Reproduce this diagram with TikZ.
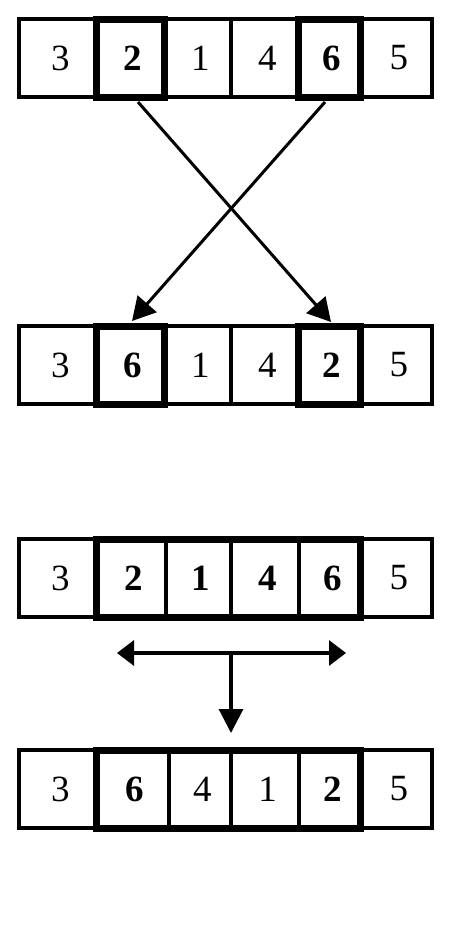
\documentclass[tikz,border=0pt]{standalone}
\usepackage{fontspec}
\setmainfont{Liberation Serif}
\usetikzlibrary{arrows.meta}
\begin{document}
\begin{tikzpicture}[x=0.5pt,y=-0.5pt,
  numfont/.style={font=\fontsize{18.5}{20}\selectfont},
  cell/.style={draw, line width=2pt, inner sep=0pt, outer sep=0pt, minimum height=39pt, numfont, execute at begin node={\hspace{2.5pt}}},
  bd/.style={cell, font=\fontsize{18.5}{20}\selectfont\bfseries},
  hl/.style={bd, line width=3.5pt},
  grp/.style={draw, line width=3.5pt},
  arr/.style={line width=1.5pt, -{Triangle[length=11.5pt,width=12.5pt]}},
  harr/.style={line width=1.6pt, {Triangle[length=8.5pt,width=12.5pt]}-{Triangle[length=8.5pt,width=12.5pt]}},
  varr/.style={line width=1.6pt, -{Triangle[length=12pt,width=12pt]}}]
\useasboundingbox (0,0) rectangle (450,937);
\fill[white] (0,0) rectangle (450,937);
% row 1
\node[cell, minimum width=38.75pt] (a1) at (57.75,58) {3};
\node[cell, minimum width=33.25pt] (a3) at (197.75,58) {1};
\node[cell, minimum width=33.75pt] (a4) at (264.75,58) {4};
\node[cell, minimum width=35.75pt] (a6) at (396.25,58) {5};
\node[hl, minimum width=34pt] (a2) at (130.5,58) {2};
\node[hl, minimum width=31pt] (a5) at (329.5,58) {6};
% row 2
\node[cell, minimum width=38.75pt] (b1) at (57.75,365) {3};
\node[cell, minimum width=33.25pt] (b3) at (197.75,365) {1};
\node[cell, minimum width=33.75pt] (b4) at (264.75,365) {4};
\node[cell, minimum width=35.75pt] (b6) at (396.25,365) {5};
\node[hl, minimum width=34pt] (b2) at (130.5,365) {6};
\node[hl, minimum width=31pt] (b5) at (329.5,365) {2};
% row 3
\node[cell, minimum width=38.75pt] (c1) at (57.75,578) {3};
\node[bd, minimum width=34.5pt] (c2) at (131,578) {2};
\node[bd, minimum width=32.75pt] (c3) at (198.25,578) {1};
\node[bd, minimum width=34pt] (c4) at (265,578) {4};
\node[bd, minimum width=30.75pt] (c5) at (329.75,578) {6};
\node[cell, minimum width=35.75pt] (c6) at (396.25,578) {5};
\draw[grp] (c2.north west) rectangle (c5.south east);
% row 4
\node[cell, minimum width=38.75pt] (d1) at (57.75,789) {3};
\node[bd, minimum width=36pt] (d2) at (132.5,789) {6};
\node[cell, minimum width=31.25pt] (d3) at (199.75,789) {4};
\node[cell, minimum width=34pt] (d4) at (265,789) {1};
\node[bd, minimum width=30.75pt] (d5) at (329.75,789) {2};
\node[cell, minimum width=35.75pt] (d6) at (396.25,789) {5};
\draw[grp] (d2.north west) rectangle (d5.south east);
% cross arrows
\coordinate (s1) at (138,102);
\coordinate (e1) at (331,322);
\coordinate (s2) at (325,102);
\coordinate (e2) at (132,321);
\draw[arr] (s1) -- (e1);
\draw[arr] (s2) -- (e2);
% reverse arrows
\coordinate (hL) at (117,653);
\coordinate (hR) at (346,653);
\coordinate (hM) at (231,653);
\coordinate (vE) at (231,733);
\draw[harr] (hL) -- (hR);
\draw[varr] (hM) -- (vE);
\end{tikzpicture}
\end{document}
